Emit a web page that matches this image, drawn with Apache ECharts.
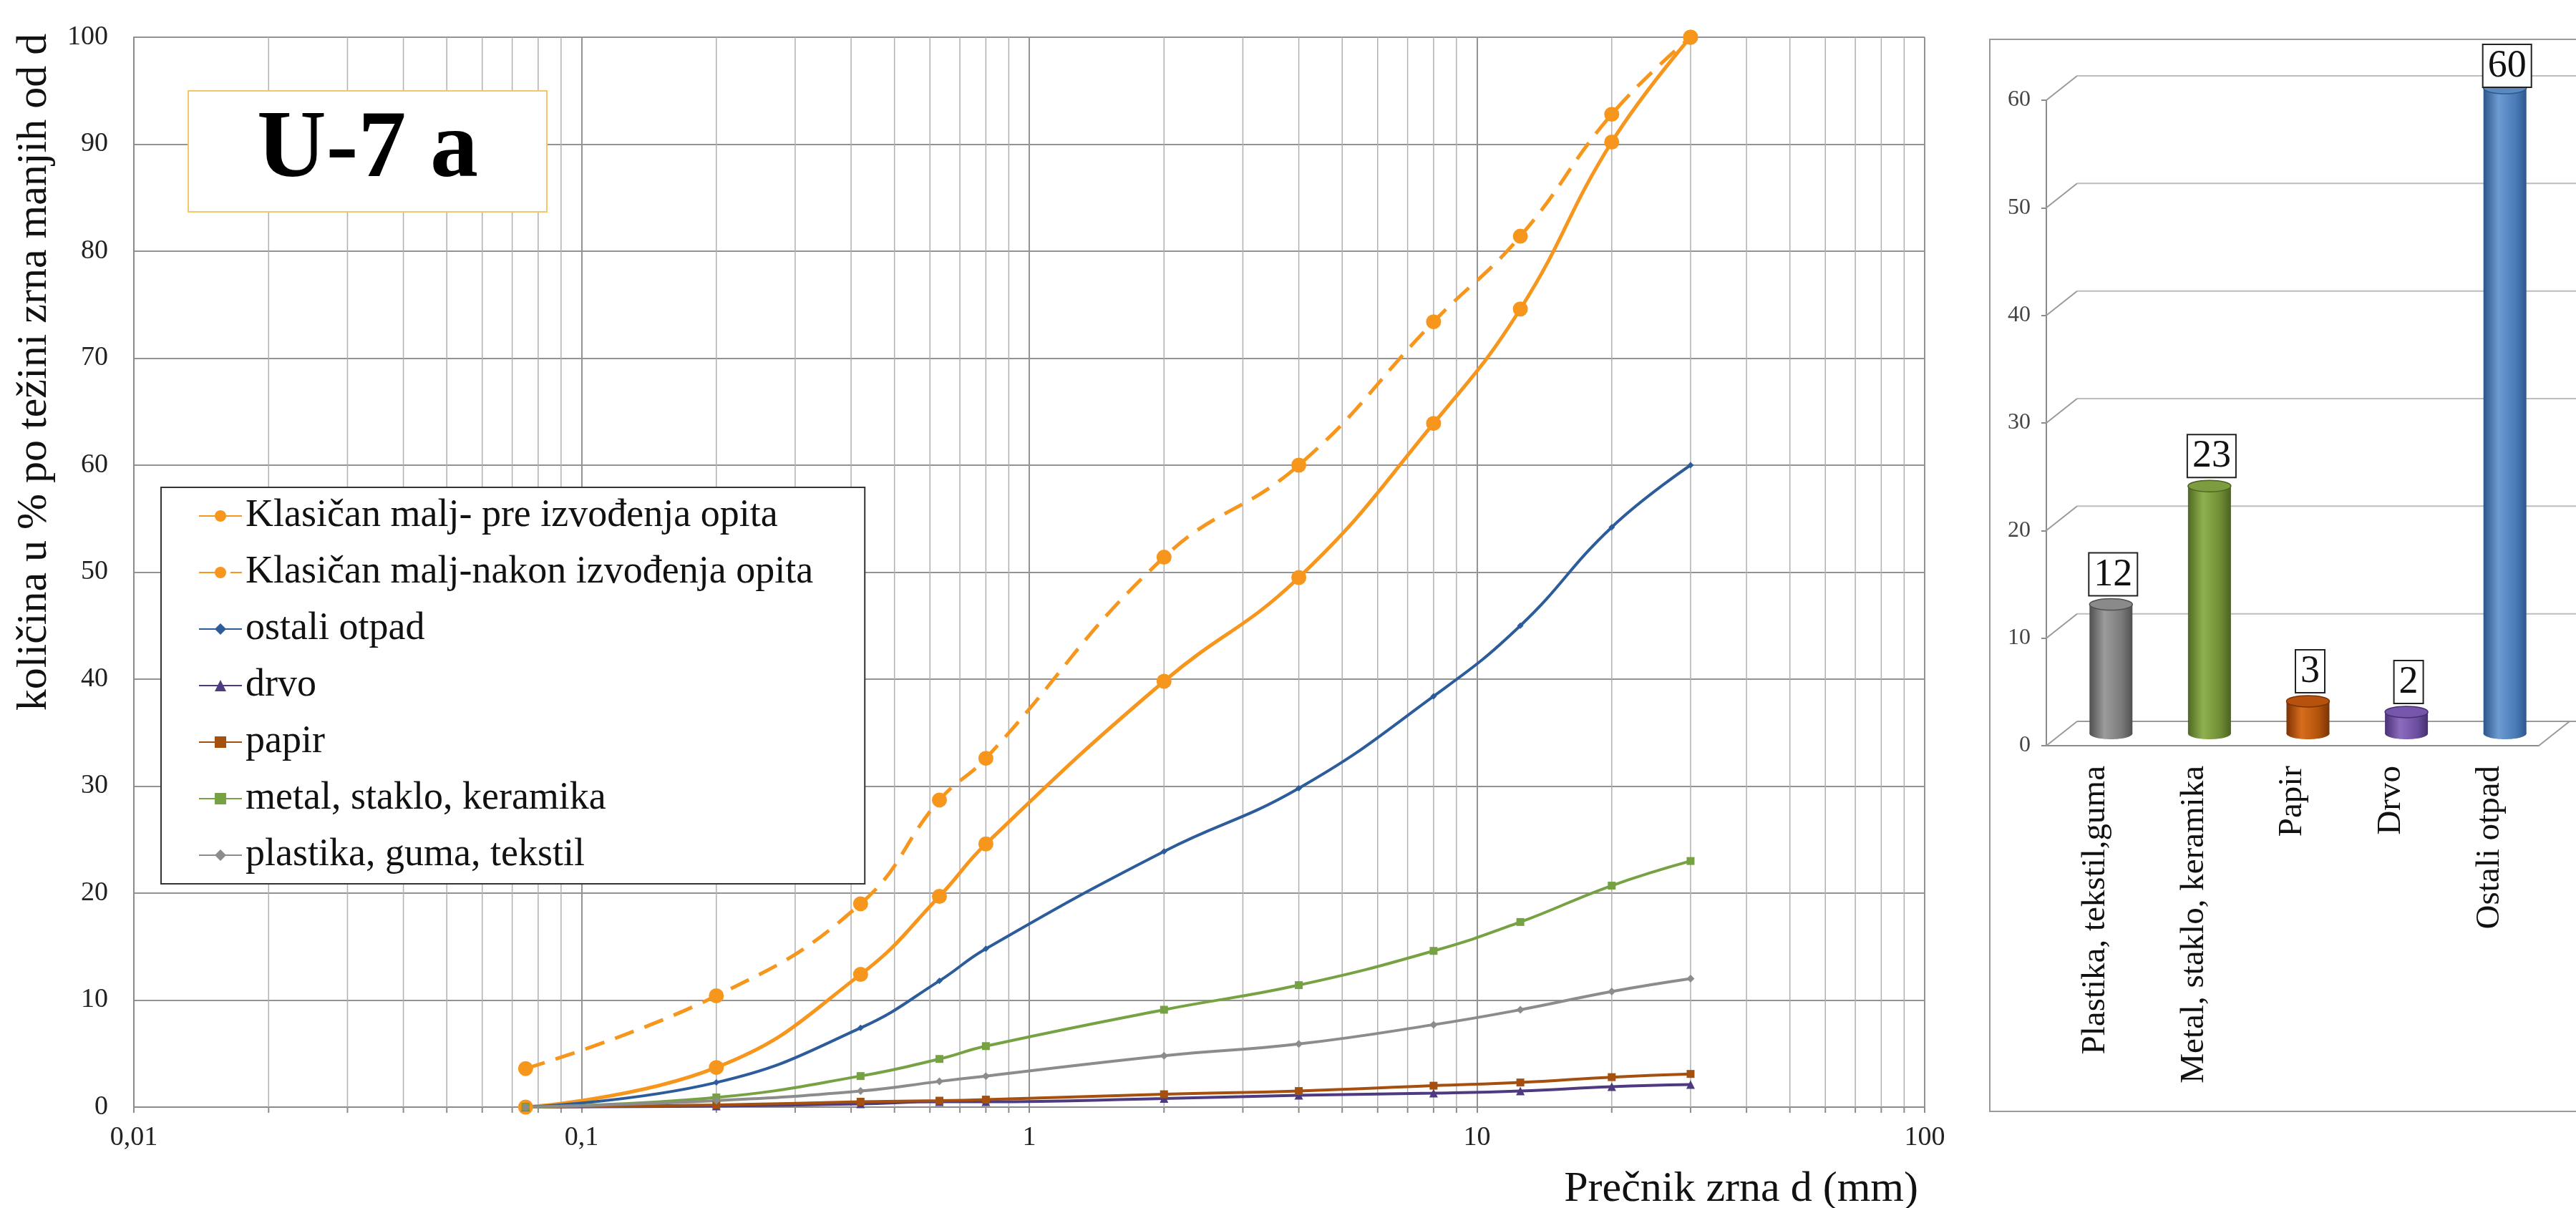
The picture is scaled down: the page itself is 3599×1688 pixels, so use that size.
<!DOCTYPE html>
<html>
<head>
<meta charset="utf-8">
<script src="https://cdn.jsdelivr.net/npm/echarts@6/dist/echarts.min.js"></script>
<style>html,body{margin:0;padding:0;background:#fff}#c{width:3599px;height:1688px}</style>
</head>
<body>
<div id="c"></div>
<script>
// ---------- data ----------
const grainSizes = [0.075, 0.2, 0.42, 0.63, 0.8, 2, 4, 8, 12.5, 20, 30];
const preTest    = [0, 3.7, 12.4, 19.7, 24.6, 39.8, 49.5, 63.9, 74.6, 90.2, 100];
const afterTest  = [3.6, 10.4, 19.0, 28.7, 32.6, 51.4, 60.0, 73.4, 81.4, 92.8, 100];
const ostaliOtpad = [0, 2.3, 7.4, 11.8, 14.8, 23.9, 29.8, 38.4, 45.0, 54.2, 60.0];
const drvo       = [0, 0.1, 0.3, 0.5, 0.5, 0.8, 1.1, 1.3, 1.5, 1.9, 2.1];
const papir      = [0, 0.2, 0.5, 0.6, 0.7, 1.2, 1.5, 2.0, 2.3, 2.8, 3.1];
const metal      = [0, 0.9, 2.9, 4.5, 5.7, 9.1, 11.4, 14.6, 17.3, 20.7, 23.0];
const plastika   = [0, 0.6, 1.5, 2.4, 2.9, 4.8, 5.9, 7.7, 9.1, 10.8, 12.0];
const seriesNames = [
  'Klasičan malj- pre izvođenja opita',
  'Klasičan malj-nakon izvođenja opita',
  'ostali otpad', 'drvo', 'papir', 'metal, staklo, keramika', 'plastika, guma, tekstil'
];
const minorGridValues = [0.02,0.03,0.04,0.05,0.06,0.07,0.08,0.09,
  0.2,0.3,0.4,0.5,0.6,0.7,0.8,0.9, 2,3,4,5,6,7,8,9, 20,30,40,50,60,70,80,90];

const barCategories = ['Plastika, tekstil,guma', 'Metal, staklo, keramika', 'Papir', 'Drvo', 'Ostali otpad'];
const barValues = [12, 23, 3, 2, 60];
const barTicks = [0, 10, 20, 30, 40, 50, 60];

// ---------- styles ----------
const SERIF = 'Liberation Serif';
const ORANGE = '#F7961C';
const barPalette = [
  ['#4f4f4f', '#9c9c9c', '#7a7a7a', '#505050'],
  ['#4f6a24', '#8fb04e', '#6f8d35', '#4b6322'],
  ['#7c3305', '#d86d1c', '#b0520c', '#7a3306'],
  ['#4a3175', '#8b6cbf', '#6c4ea0', '#46306f'],
  ['#2c568a', '#6d9bd2', '#4a7bb8', '#2d588c']
];
const barTopColor = ['#8a8a8a', '#7d9c3f', '#b6520e', '#7656aa', '#5a8ac4'];
const DX = 43, DY = -34;

const pairs = arr => grainSizes.map((x, i) => [x, arr[i]]);

function lineSeries(name, arr, color, symbol, size, width, dash) {
  return {
    name, type: 'line', xAxisIndex: 0, yAxisIndex: 0,
    data: pairs(arr), smooth: 0.45, symbol, symbolSize: size,
    lineStyle: { color, width, type: dash || 'solid' },
    itemStyle: { color }, z: 5, silent: true
  };
}

const option = {
  animation: false,
  backgroundColor: '#fff',
  title: {
    text: 'U-7 a', left: 263, top: 127, padding: [17, 96],
    borderColor: '#F4C66A', borderWidth: 2, backgroundColor: '#fff',
    textStyle: { fontFamily: SERIF, fontWeight: 'bold', fontSize: 134, lineHeight: 135, color: '#000' }
  },
  legend: {
    data: seriesNames, orient: 'vertical', left: 225, top: 681,
    backgroundColor: '#fff', borderColor: '#333', borderWidth: 2,
    padding: [13, 72, 13, 52], itemGap: 25, itemWidth: 60, itemHeight: 20,
    textStyle: { fontFamily: SERIF, fontSize: 54, lineHeight: 54, color: '#111' },
    selectedMode: false
  },
  grid: [
    { left: 187, top: 52, width: 2502, height: 1495 },
    { left: 2859, top: 140, width: 688, height: 902 }
  ],
  xAxis: [
    {
      type: 'log', logBase: 10, min: 0.01, max: 100, gridIndex: 0,
      axisLine: { lineStyle: { color: '#8c8c8c', width: 2 } },
      axisTick: { show: true, length: 8, lineStyle: { color: '#8c8c8c', width: 2 } },
      axisLabel: {
        fontFamily: SERIF, fontSize: 38, color: '#222', margin: 24,
        formatter: v => String(+(+v).toPrecision(4)).replace('.', ',')
      },
      splitLine: { show: true, lineStyle: { color: '#939393', width: 2 } }
    },
    {
      type: 'category', gridIndex: 1, data: barCategories,
      axisLine: { lineStyle: { color: '#8c8c8c', width: 2 } },
      axisTick: { length: 15, lineStyle: { color: '#8c8c8c', width: 2 } },
      axisLabel: { rotate: 90, interval: 0, fontFamily: SERIF, fontSize: 47, color: '#111', margin: 28 },
      splitLine: { show: false }
    }
  ],
  yAxis: [
    {
      type: 'value', min: 0, max: 100, interval: 10, gridIndex: 0,
      axisLine: { show: true, lineStyle: { color: '#8c8c8c', width: 2 } },
      axisTick: { show: false },
      axisLabel: { fontFamily: SERIF, fontSize: 38, color: '#222', margin: 36 },
      splitLine: { show: true, lineStyle: { color: '#939393', width: 2 } }
    },
    {
      type: 'value', min: 0, max: 60, interval: 10, gridIndex: 1,
      axisLine: { show: true, lineStyle: { color: '#8c8c8c', width: 2 } },
      axisTick: { show: true, length: 7, lineStyle: { color: '#8c8c8c', width: 2 } },
      axisLabel: { fontFamily: SERIF, fontSize: 32, color: '#444', margin: 22 },
      splitLine: { show: false }
    }
  ],
  graphic: [
    {
      type: 'rect', z: -10, silent: true,
      shape: { x: 2780, y: 55, width: 840, height: 1498 },
      style: { fill: 'none', stroke: '#9a9a9a', lineWidth: 2 }
    },
    {
      type: 'text', x: 48, y: 520, rotation: Math.PI / 2, silent: true,
      style: { text: 'količina u % po težini zrna manjih od d', font: '60px "Liberation Serif"', fill: '#111', align: 'center', verticalAlign: 'middle' }
    },
    {
      type: 'text', x: 2680, y: 1662, silent: true,
      style: { text: 'Prečnik zrna d (mm)', font: '60px "Liberation Serif"', fill: '#111', align: 'right', verticalAlign: 'middle' }
    }
  ],
  series: [
    {
      name: 'minorGrid', type: 'custom', xAxisIndex: 0, yAxisIndex: 0, silent: true, z: 1,
      data: minorGridValues.map(v => [v, 0]),
      renderItem: (params, api) => {
        const cs = params.coordSys;
        const x = api.coord([api.value(0), 0])[0];
        const yb = cs.y + cs.height;
        return {
          type: 'group', children: [
            { type: 'line', shape: { x1: x, y1: cs.y, x2: x, y2: yb }, style: { stroke: '#b0b0b0', lineWidth: 1.5 } },
            { type: 'line', shape: { x1: x, y1: yb, x2: x, y2: yb + 8 }, style: { stroke: '#8c8c8c', lineWidth: 2 } }
          ]
        };
      }
    },
    lineSeries(seriesNames[0], preTest, ORANGE, 'circle', 21, 5),
    lineSeries(seriesNames[1], afterTest, ORANGE, 'circle', 21, 5, [28, 16]),
    lineSeries(seriesNames[2], ostaliOtpad, '#2C5C9A', 'diamond', 9, 4),
    lineSeries(seriesNames[3], drvo, '#4D3A80', 'triangle', 12, 4),
    lineSeries(seriesNames[4], papir, '#A5500F', 'rect', 11, 4),
    lineSeries(seriesNames[5], metal, '#77A243', 'rect', 11, 4),
    lineSeries(seriesNames[6], plastika, '#8C8C8C', 'diamond', 11, 4),
    {
      name: 'wall', type: 'custom', xAxisIndex: 1, yAxisIndex: 1, silent: true, z: 1,
      data: barTicks.map(v => [0, v]),
      renderItem: (params, api) => {
        const cs = params.coordSys;
        const v = api.value(1);
        const y = api.coord([0, v])[1];
        const x0 = cs.x, x1 = cs.x + cs.width;
        const ch = [
          { type: 'line', shape: { x1: x0, y1: y, x2: x0 + DX, y2: y + DY }, style: { stroke: '#9a9a9a', lineWidth: 2 } },
          { type: 'line', shape: { x1: x0 + DX, y1: y + DY, x2: x1 + DX + 12, y2: y + DY }, style: { stroke: v === 0 ? '#9a9a9a' : '#bdbdbd', lineWidth: 2 } }
        ];
        if (v === 0) ch.push({ type: 'line', shape: { x1: x1, y1: y, x2: x1 + DX, y2: y + DY }, style: { stroke: '#9a9a9a', lineWidth: 2 } });
        return { type: 'group', children: ch };
      }
    },
    {
      name: 'cylinders', type: 'custom', xAxisIndex: 1, yAxisIndex: 1, silent: true, z: 3,
      data: barValues.map((v, i) => [i, v]),
      renderItem: (params, api) => {
        const i = params.dataIndex;
        const v = api.value(1);
        const top = api.coord([api.value(0), v]);
        const base = api.coord([api.value(0), 0]);
        const cx = top[0] + DX / 2;
        const yt = top[1] + DY / 2, yb = base[1] + DY / 2;
        const w = 60, ry = 8;
        const p = barPalette[i];
        const grad = new echarts.graphic.LinearGradient(0, 0, 1, 0, [
          { offset: 0, color: p[0] }, { offset: 0.35, color: p[1] },
          { offset: 0.75, color: p[2] }, { offset: 1, color: p[3] }
        ]);
        const labelBottom = Math.max(yt - ry - 5, 121);
        return {
          type: 'group', children: [
            { type: 'ellipse', shape: { cx: cx, cy: yb, rx: w / 2, ry: ry }, style: { fill: grad } },
            { type: 'rect', shape: { x: cx - w / 2, y: yt, width: w, height: yb - yt }, style: { fill: grad } },
            { type: 'ellipse', shape: { cx: cx, cy: yt, rx: w / 2, ry: ry }, style: { fill: barTopColor[i], stroke: p[3], lineWidth: 1.5 } },
            {
              type: 'text', x: cx + 3, y: labelBottom,
              style: {
                text: String(v), font: '54px "Liberation Serif"', fill: '#111', align: 'center', verticalAlign: 'bottom',
                backgroundColor: '#fff', borderColor: '#222', borderWidth: 2, padding: [3, 6, 1, 6]
              }
            }
          ]
        };
      }
    }
  ]
};

const chart = echarts.init(document.getElementById('c'), null, { renderer: 'canvas' });
chart.setOption(option);
</script>
</body>
</html>
